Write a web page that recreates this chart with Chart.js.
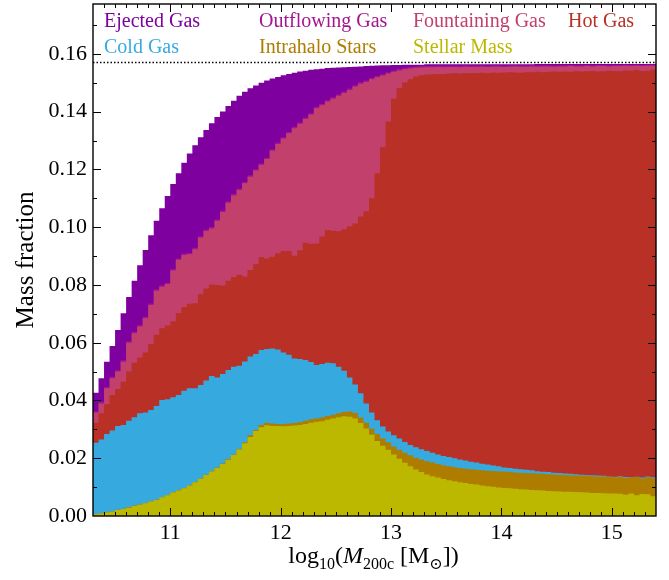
<!DOCTYPE html>
<html>
<head>
<meta charset="utf-8">
<title>Baryon budget of haloes</title>
<script src="https://cdn.jsdelivr.net/npm/chart.js@4.4.1/dist/chart.umd.min.js"></script>
<style>
  html, body { margin: 0; padding: 0; background: #ffffff; }
  #wrap { width: 669px; height: 580px; }
</style>
</head>
<body>
<div id="wrap"><canvas id="chart" width="669" height="580"></canvas></div>
<script>
// Halo-mass bins: log10(M200c / Msun), 0.05 dex wide, starting at 10.3
const binLow = 10.3;
const binWidth = 0.05;

const xTickLabels = [11, 12, 13, 14, 15];
const yTickLabels = [0.00, 0.02, 0.04, 0.06, 0.08, 0.10, 0.12, 0.14, 0.16];
const yAxisMax = 0.1773;

// Cosmic baryon fraction (dotted reference line)
const baryonFraction = 0.157;

// Stacked mass fractions: each array is the cumulative fraction up to and
// including that component, per halo-mass bin.
const cumStellar = [
  0.0006, 0.0009, 0.0012, 0.0015, 0.0021, 0.0024, 0.0029, 0.0035, 0.0039, 0.0044,
  0.0050, 0.0055, 0.0065, 0.0072, 0.0081, 0.0088, 0.0096,
  0.0106, 0.0117, 0.0129, 0.0142, 0.0154, 0.0166, 0.0180, 0.0195, 0.0211, 0.0230,
  0.0252, 0.0274, 0.0294, 0.0307,
  0.0314, 0.0312, 0.0312, 0.0311, 0.0312, 0.0313, 0.0315, 0.0319, 0.0323, 0.0326,
  0.0328, 0.0333, 0.0338,
  0.0342, 0.0345, 0.0344, 0.0338, 0.0322, 0.0303, 0.0281, 0.0260, 0.0243, 0.0229,
  0.0213, 0.0198, 0.0184, 0.0172, 0.0161, 0.0152, 0.0144,
  0.0138, 0.0133, 0.0128, 0.0124, 0.0120, 0.0117, 0.0114, 0.0111,
  0.0109, 0.0106, 0.0103, 0.0101, 0.0099, 0.0097, 0.0096, 0.0094, 0.0093, 0.0092,
  0.0090, 0.0089, 0.0088, 0.0087, 0.0086, 0.0085, 0.0084, 0.0084, 0.0083, 0.0082,
  0.0081, 0.0080, 0.0080, 0.0079, 0.0078, 0.0078, 0.0077, 0.0074, 0.0078, 0.0072,
  0.0076, 0.0075, 0.0068
];

const cumIntrahalo = [
  0.0007, 0.0010, 0.0013, 0.0016, 0.0022, 0.0025, 0.0030, 0.0036, 0.0040, 0.0045,
  0.0051, 0.0056, 0.0066, 0.0073, 0.0082, 0.0089, 0.0097,
  0.0107, 0.0118, 0.0130, 0.0143, 0.0155, 0.0168, 0.0182, 0.0197, 0.0213, 0.0232,
  0.0255, 0.0280, 0.0298, 0.0315,
  0.0323, 0.0320, 0.0319, 0.0319, 0.0320, 0.0322, 0.0325, 0.0330, 0.0335, 0.0338,
  0.0341, 0.0346, 0.0351,
  0.0356, 0.0360, 0.0362, 0.0357, 0.0341, 0.0323, 0.0302, 0.0284, 0.0268, 0.0255,
  0.0241, 0.0229, 0.0219, 0.0210, 0.0202, 0.0196, 0.0190,
  0.0185, 0.0180, 0.0176, 0.0172, 0.0169, 0.0166, 0.0164, 0.0162,
  0.0160, 0.0158, 0.0157, 0.0156, 0.0155, 0.0154, 0.0153, 0.0151, 0.0150, 0.0149,
  0.0148, 0.0147, 0.0146, 0.0145, 0.0144, 0.0143, 0.0142, 0.0141, 0.0140, 0.0139,
  0.0139, 0.0138, 0.0137, 0.0137, 0.0136, 0.0134, 0.0136, 0.0132, 0.0133, 0.0135,
  0.0130, 0.0134, 0.0131
];

const cumCold = [
  0.0254, 0.0265, 0.0284, 0.0296, 0.0312, 0.0315, 0.0330, 0.0342, 0.0356, 0.0358,
  0.0367, 0.0381, 0.0402, 0.0404, 0.0411, 0.0419, 0.0434, 0.0442, 0.0442, 0.0454,
  0.0469, 0.0485, 0.0480, 0.0492, 0.0506, 0.0517, 0.0520, 0.0535, 0.0552, 0.0561,
  0.0575, 0.0578, 0.0580, 0.0577, 0.0566, 0.0558, 0.0545, 0.0544, 0.0540, 0.0533,
  0.0523, 0.0526, 0.0531, 0.0529, 0.0517, 0.0503, 0.0480, 0.0455, 0.0425, 0.0390,
  0.0358, 0.0332, 0.0310, 0.0293, 0.0280, 0.0268,
  0.0256, 0.0246, 0.0238, 0.0231, 0.0225, 0.0219, 0.0213, 0.0208, 0.0204, 0.0200,
  0.0196, 0.0192, 0.0188, 0.0185, 0.0181, 0.0178, 0.0175, 0.0172, 0.0168, 0.0166,
  0.0164, 0.0162, 0.0160, 0.0158, 0.0155, 0.0153, 0.0152, 0.0150, 0.0149, 0.0147,
  0.0146, 0.0145, 0.0143, 0.0142, 0.0141, 0.0140, 0.0139, 0.0137, 0.0136, 0.0138,
  0.0135, 0.0134, 0.0136, 0.0133, 0.0137, 0.0134
];

const cumHot = [
  0.0323, 0.0356, 0.0387, 0.0419, 0.0440, 0.0465, 0.0500, 0.0531, 0.0549, 0.0566,
  0.0596, 0.0628, 0.0650, 0.0660, 0.0674, 0.0703, 0.0724, 0.0735, 0.0737, 0.0768,
  0.0788, 0.0802, 0.0800, 0.0798, 0.0815, 0.0828, 0.0835, 0.0829, 0.0852, 0.0872,
  0.0896, 0.0892, 0.0898, 0.0910, 0.0918, 0.0918, 0.0901, 0.0920, 0.0946, 0.0943,
  0.0944, 0.0968, 0.0990, 0.0988, 0.0986, 0.0993, 0.1003, 0.1013, 0.1037, 0.1055,
  0.1100, 0.1187, 0.1277, 0.1366, 0.1445, 0.1481, 0.1501, 0.1512, 0.1522, 0.1526,
  0.1529, 0.1530, 0.1531, 0.1531, 0.1532, 0.1533, 0.1532, 0.1534, 0.1533, 0.1534,
  0.1535, 0.1534, 0.1536, 0.1535, 0.1536, 0.1537, 0.1536, 0.1535, 0.1537, 0.1537,
  0.1538, 0.1537, 0.1538, 0.1539, 0.1538, 0.1539, 0.1538, 0.1540, 0.1539, 0.1540,
  0.1541, 0.1539, 0.1540, 0.1542, 0.1541, 0.1540, 0.1543, 0.1542, 0.1545, 0.1541,
  0.1542, 0.1546
];

const cumFountaining = [
  0.0358, 0.0390, 0.0442, 0.0477, 0.0500, 0.0534, 0.0600, 0.0633, 0.0656, 0.0685,
  0.0731, 0.0780, 0.0794, 0.0803, 0.0850, 0.0887, 0.0904, 0.0906, 0.0924, 0.0964,
  0.0987, 0.0996, 0.1022, 0.1053, 0.1085, 0.1110, 0.1129, 0.1152, 0.1175, 0.1196,
  0.1216, 0.1236, 0.1265, 0.1288, 0.1307, 0.1325, 0.1343, 0.1358, 0.1375, 0.1390,
  0.1412, 0.1422, 0.1435, 0.1445, 0.1455, 0.1465, 0.1475, 0.1487, 0.1497, 0.1503,
  0.1512, 0.1519, 0.1525, 0.1532, 0.1538, 0.1543, 0.1547, 0.1550, 0.1552, 0.1553,
  0.1554, 0.1554, 0.1555, 0.1554, 0.1555, 0.1555, 0.1554, 0.1556, 0.1555, 0.1555,
  0.1556, 0.1555, 0.1556, 0.1556, 0.1555, 0.1556, 0.1557, 0.1556, 0.1556, 0.1557,
  0.1556, 0.1557, 0.1557, 0.1556, 0.1557, 0.1557, 0.1558, 0.1557, 0.1557, 0.1558,
  0.1557, 0.1558, 0.1558, 0.1557, 0.1558, 0.1558, 0.1559, 0.1558, 0.1559, 0.1558,
  0.1559, 0.1559
];

const cumOutflowing = [
  0.0363, 0.0395, 0.0447, 0.0482, 0.0505, 0.0539, 0.0605, 0.0638, 0.0661, 0.0690,
  0.0736, 0.0785, 0.0799, 0.0808, 0.0855, 0.0892, 0.0909, 0.0911, 0.0929, 0.0969,
  0.0992, 0.1001, 0.1027, 0.1058, 0.1090, 0.1115, 0.1134, 0.1157, 0.1180, 0.1201,
  0.1221, 0.1241, 0.1270, 0.1293, 0.1312, 0.1330, 0.1348, 0.1363, 0.1380, 0.1395,
  0.1417, 0.1427, 0.1440, 0.1450, 0.1460, 0.1470, 0.1480, 0.1492, 0.1502, 0.1508,
  0.1517, 0.1524, 0.1530, 0.1537, 0.1543, 0.1548, 0.1552, 0.1555, 0.1557, 0.1558,
  0.1558, 0.1558, 0.1559, 0.1558, 0.1559, 0.1559, 0.1558, 0.1560, 0.1559, 0.1559,
  0.1560, 0.1559, 0.1560, 0.1560, 0.1559, 0.1560, 0.1561, 0.1560, 0.1560, 0.1561,
  0.1560, 0.1561, 0.1561, 0.1560, 0.1561, 0.1561, 0.1562, 0.1561, 0.1561, 0.1562,
  0.1561, 0.1562, 0.1562, 0.1561, 0.1562, 0.1562, 0.1563, 0.1562, 0.1563, 0.1562,
  0.1563, 0.1563
];

const cumEjected = [
  0.0427, 0.0477, 0.0534, 0.0589, 0.0644, 0.0702, 0.0758, 0.0815, 0.0868, 0.0921,
  0.0972, 0.1022, 0.1066, 0.1108, 0.1150, 0.1187, 0.1223, 0.1255, 0.1284, 0.1312,
  0.1337, 0.1360, 0.1382, 0.1401, 0.1420, 0.1438, 0.1455, 0.1469, 0.1481, 0.1491,
  0.1500, 0.1508, 0.1515, 0.1520, 0.1526, 0.1531, 0.1535, 0.1539, 0.1542, 0.1545,
  0.1547, 0.1549, 0.1551, 0.1552, 0.1553, 0.1554, 0.1555, 0.1556, 0.1557, 0.1558,
  0.1559, 0.1560, 0.1561, 0.1561, 0.1562, 0.1562, 0.1563, 0.1563, 0.1563, 0.1563,
  0.1564, 0.1564, 0.1564, 0.1564, 0.1564, 0.1564, 0.1564, 0.1564, 0.1564, 0.1564,
  0.1564, 0.1564, 0.1564, 0.1564, 0.1564, 0.1564, 0.1564, 0.1564, 0.1564, 0.1564,
  0.1565, 0.1565, 0.1565, 0.1565, 0.1565, 0.1565, 0.1565, 0.1565, 0.1565, 0.1565,
  0.1565, 0.1565, 0.1565, 0.1565, 0.1565, 0.1565, 0.1565, 0.1565, 0.1565, 0.1565,
  0.1565, 0.1565
];

const components = [
  { name: 'Stellar Mass',    color: '#bcb800', values: cumStellar },
  { name: 'Intrahalo Stars', color: '#ae7d00', values: cumIntrahalo },
  { name: 'Cold Gas',        color: '#36aadf', values: cumCold },
  { name: 'Hot Gas',         color: '#b83026', values: cumHot },
  { name: 'Fountaining Gas', color: '#c2416c', values: cumFountaining },
  { name: 'Outflowing Gas',  color: '#a4158f', values: cumOutflowing },
  { name: 'Ejected Gas',     color: '#7e009e', values: cumEjected }
];

// Legend grid, as laid out along the top of the panel
const legendRows = [
  ['Ejected Gas', 'Outflowing Gas', 'Fountaining Gas', 'Hot Gas'],
  ['Cold Gas', 'Intrahalo Stars', 'Stellar Mass']
];

const SERIF = '"Liberation Serif", "DejaVu Serif", serif';
const xMin = binLow;
const xMax = binLow + cumStellar.length * binWidth;

// Histogram steps: one point per bin centre plus the two outer bin edges,
// drawn with mid-point stepping so every bin is a flat plateau.
function stepPoints(values) {
  const pts = [{ x: xMin, y: values[0] }];
  values.forEach((v, i) => pts.push({ x: binLow + (i + 0.5) * binWidth, y: v }));
  pts.push({ x: xMax, y: values[values.length - 1] });
  return pts;
}

const datasets = [{
  label: 'Cosmic baryon fraction',
  data: [{ x: xMin, y: baryonFraction }, { x: xMax, y: baryonFraction }],
  borderColor: '#000000',
  borderWidth: 1.5,
  borderDash: [1.5, 2],
  fill: false,
  pointRadius: 0
}];
components.forEach(c => {
  datasets.push({
    label: c.name,
    data: stepPoints(c.values),
    stepped: 'middle',
    borderWidth: 0,
    borderColor: c.color,
    backgroundColor: c.color,
    fill: 'origin',
    pointRadius: 0
  });
});

function colorOf(name) {
  return components.find(c => c.name === name).color;
}

const decorations = {
  id: 'decorations',
  afterDatasetsDraw(chart) {
    const { ctx, chartArea: a, scales: { x, y } } = chart;
    ctx.save();
    ctx.strokeStyle = '#000000';
    ctx.lineWidth = 1;
    const seg = (x1, y1, x2, y2) => { ctx.beginPath(); ctx.moveTo(x1, y1); ctx.lineTo(x2, y2); ctx.stroke(); };

    // inward ticks on all four sides
    for (let i = Math.round(xMin * 10) + 1; i < Math.round(xMax * 10); i++) {
      const len = i % 10 === 0 ? 8 : 4;
      const px = Math.round(x.getPixelForValue(i / 10)) + 0.5;
      seg(px, a.bottom, px, a.bottom - len);
      seg(px, a.top, px, a.top + len);
    }
    for (let j = 1; j / 100 < yAxisMax; j++) {
      const len = j % 2 === 0 ? 8 : 4;
      const py = Math.round(y.getPixelForValue(j / 100)) + 0.5;
      seg(a.left, py, a.left + len, py);
      seg(a.right, py, a.right - len, py);
    }

    // frame
    ctx.lineWidth = 1.4;
    ctx.strokeRect(a.left, a.top, a.right - a.left, a.bottom - a.top);

    // legend as coloured text
    ctx.font = '20px ' + SERIF;
    ctx.textBaseline = 'alphabetic';
    ctx.textAlign = 'left';
    const colX = [a.left + 11, a.left + 166, a.left + 320, a.left + 475];
    const rowY = [27, 53];
    legendRows.forEach((row, r) => {
      row.forEach((name, c) => {
        ctx.fillStyle = colorOf(name);
        ctx.fillText(name, colX[c], rowY[r]);
      });
    });
    ctx.restore();
  },
  afterDraw(chart) {
    const { ctx, chartArea: a } = chart;
    ctx.save();
    ctx.fillStyle = '#000000';

    // x-axis title: log10(M200c [Msun])
    const big = 24, small = 16, sub = 6;
    const parts = [
      { t: 'log', f: big + 'px ' + SERIF, dy: 0 },
      { t: '10', f: small + 'px ' + SERIF, dy: sub },
      { t: '(', f: big + 'px ' + SERIF, dy: 0 },
      { t: 'M', f: 'italic ' + big + 'px ' + SERIF, dy: 0 },
      { t: '200c', f: small + 'px ' + SERIF, dy: sub },
      { t: ' [M', f: big + 'px ' + SERIF, dy: 0 },
      { t: '\u2299', f: small + 'px "DejaVu Serif", serif', dy: sub },
      { t: '])', f: big + 'px ' + SERIF, dy: 0 }
    ];
    let total = 0;
    parts.forEach(p => { ctx.font = p.f; p.w = ctx.measureText(p.t).width; total += p.w; });
    let cx = (a.left + a.right) / 2 - 1 - total / 2;
    const base = 563;
    ctx.textBaseline = 'alphabetic';
    ctx.textAlign = 'left';
    parts.forEach(p => { ctx.font = p.f; ctx.fillText(p.t, cx, base + p.dy); cx += p.w; });

    // y-axis title
    ctx.translate(33, (a.top + a.bottom) / 2);
    ctx.rotate(-Math.PI / 2);
    ctx.font = '25px ' + SERIF;
    ctx.textAlign = 'center';
    ctx.fillText('Mass fraction', 0, 0);
    ctx.restore();
  }
};

new Chart(document.getElementById('chart'), {
  type: 'line',
  data: { datasets },
  options: {
    responsive: false,
    animation: false,
    devicePixelRatio: 1,
    layout: { padding: { top: 4, right: 13, bottom: 0, left: 0 } },
    elements: { line: { tension: 0 }, point: { radius: 0 } },
    plugins: { legend: { display: false }, tooltip: { enabled: false } },
    scales: {
      x: {
        type: 'linear',
        min: xMin,
        max: xMax,
        grid: { display: false, drawTicks: false },
        border: { display: false },
        afterBuildTicks: s => { s.ticks = xTickLabels.map(v => ({ value: v })); },
        afterFit: s => { s.height = 64; s.paddingLeft = 0; s.paddingRight = 0; },
        ticks: {
          autoSkip: false,
          maxRotation: 0,
          padding: 4,
          color: '#000000',
          font: { family: SERIF, size: 22 },
          callback: v => String(v)
        }
      },
      y: {
        type: 'linear',
        min: 0,
        max: yAxisMax,
        grid: { display: false, drawTicks: false },
        border: { display: false },
        afterBuildTicks: s => { s.ticks = yTickLabels.map(v => ({ value: v })); },
        afterFit: s => { s.width = 93; s.paddingTop = 0; s.paddingBottom = 0; },
        ticks: {
          autoSkip: false,
          padding: 6,
          color: '#000000',
          font: { family: SERIF, size: 22 },
          callback: v => v.toFixed(2)
        }
      }
    }
  },
  plugins: [decorations]
});
</script>
</body>
</html>
